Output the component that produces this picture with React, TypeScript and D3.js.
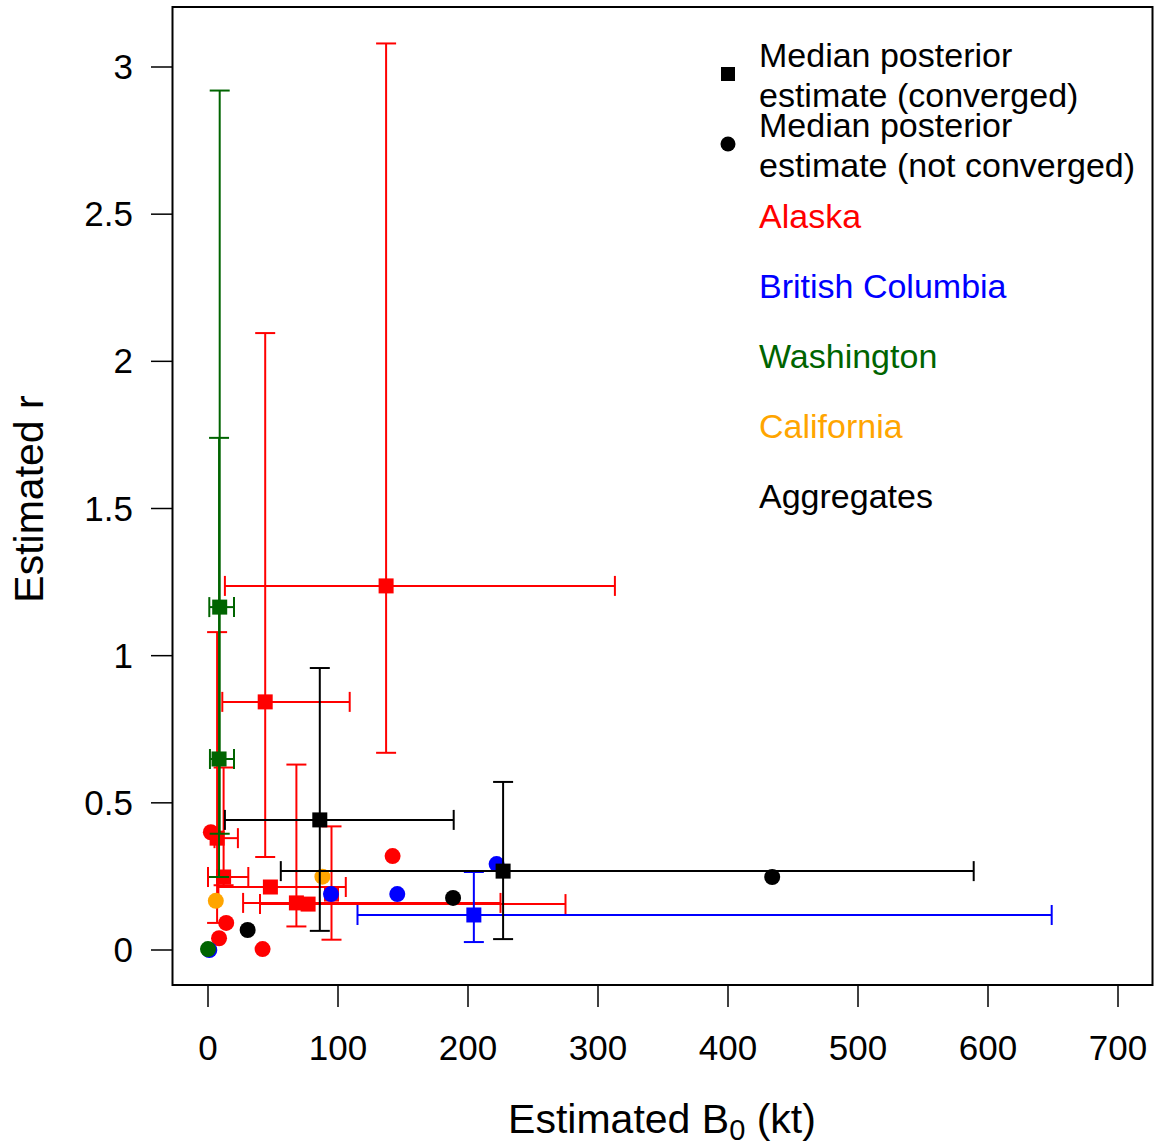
import React, { useEffect, useRef } from "react";
import * as d3 from "d3";

// regions in drawing order, with their colours
const regions = ["Alaska", "British Columbia", "Washington", "California", "Aggregates"];
const regionColors = ["#FF0000", "#0000FF", "#006400", "#FFA500", "#000000"];

// converged estimates (squares) with intervals
const sqRegion = ["Alaska", "Alaska", "Alaska", "Alaska", "Alaska", "Alaska", "Alaska", "Alaska",
  "British Columbia", "Washington", "Washington", "Aggregates", "Aggregates"];
const sqB = [137, 44, 48, 12, 68, 77, 7, 95, 204.5, 9, 8.5, 86, 227];
const sqBLow = [13, 11, 8, 0, 27, 40, 5, 95, 115, 1, 1.5, 13, 56];
const sqBHigh = [313, 109, 106, 31, 225, 275, 23, 95, 649, 20, 20, 189, 589];
const sqR = [1.237, 0.843, 0.214, 0.248, 0.16, 0.156, 0.38, 0.19, 0.119, 1.165, 0.649, 0.442, 0.268];
const sqRLow = [0.67, 0.316, 0.214, 0.22, 0.08, 0.156, 0.092, 0.035, 0.027, 0.395, 0.248, 0.065, 0.037];
const sqRHigh = [3.08, 2.096, 0.214, 0.62, 0.63, 0.156, 1.08, 0.42, 0.265, 2.92, 1.74, 0.958, 0.571];

// not converged estimates (circles)
const ciRegion = ["Alaska", "Alaska", "Alaska", "Alaska", "Alaska",
  "British Columbia", "British Columbia", "British Columbia", "British Columbia",
  "Washington", "California", "California", "Aggregates", "Aggregates", "Aggregates"];
const ciB = [2.2, 142, 14, 8.5, 42, 1, 94.6, 145.6, 222, 0, 6, 88, 30.5, 188.5, 434];
const ciR = [0.4, 0.319, 0.092, 0.04, 0.003, 0.0, 0.19, 0.19, 0.292, 0.003, 0.167, 0.249, 0.068, 0.177, 0.248];

const xTicks = [0, 100, 200, 300, 400, 500, 600, 700];
const yTicks = [0, 0.5, 1, 1.5, 2, 2.5, 3];

const App = () => {
  const ref = useRef<SVGSVGElement>(null);

  useEffect(() => {
    const svg = d3.select(ref.current);
    svg.selectAll("*").remove();
    const font = "Liberation Sans, Arial, sans-serif";

    const x = d3.scaleLinear().domain([0, 700]).range([208, 1118]);
    const y = d3.scaleLinear().domain([0, 3]).range([950, 67]);
    const color = d3.scaleOrdinal<string>().domain(regions).range(regionColors);

    // plot box
    svg.append("rect")
      .attr("x", 172.5).attr("y", 7).attr("width", 980).attr("height", 978)
      .attr("fill", "none").attr("stroke", "black").attr("stroke-width", 2);

    // x axis
    const xa = svg.append("g");
    xa.selectAll("line").data(xTicks).enter().append("line")
      .attr("x1", d => x(d)).attr("x2", d => x(d))
      .attr("y1", 986).attr("y2", 1007)
      .attr("stroke", "black").attr("stroke-width", 1.5);
    xa.selectAll("text").data(xTicks).enter().append("text")
      .attr("x", d => x(d)).attr("y", 1060)
      .attr("text-anchor", "middle").attr("font-family", font).attr("font-size", 35)
      .text(d => d);

    // y axis
    const ya = svg.append("g");
    ya.selectAll("line").data(yTicks).enter().append("line")
      .attr("x1", 151).attr("x2", 172)
      .attr("y1", d => y(d)).attr("y2", d => y(d))
      .attr("stroke", "black").attr("stroke-width", 1.5);
    ya.selectAll("text").data(yTicks).enter().append("text")
      .attr("x", 133).attr("y", d => y(d) + 12)
      .attr("text-anchor", "end").attr("font-family", font).attr("font-size", 35)
      .text(d => d);

    // axis titles
    svg.append("text")
      .attr("transform", "translate(43,499) rotate(-90)")
      .attr("text-anchor", "middle").attr("font-family", font).attr("font-size", 41)
      .text("Estimated r");
    const xt = svg.append("text")
      .attr("x", 662).attr("y", 1133)
      .attr("text-anchor", "middle").attr("font-family", font).attr("font-size", 41);
    xt.append("tspan").text("Estimated B");
    xt.append("tspan").attr("font-size", 29).attr("dy", 7).text("0");
    xt.append("tspan").attr("dy", -7).text(" (kt)");

    const cap = 10;
    const sqIdx = d3.range(sqB.length);
    const ciIdx = d3.range(ciB.length);

    regions.forEach(reg => {
      const col = color(reg);
      const g = svg.append("g");
      const si = sqIdx.filter(i => sqRegion[i] === reg);
      si.forEach(i => {
        if (sqBHigh[i] > sqBLow[i]) {
          g.append("line")
            .attr("x1", x(sqBLow[i])).attr("x2", x(sqBHigh[i]))
            .attr("y1", y(sqR[i])).attr("y2", y(sqR[i]))
            .attr("stroke", col).attr("stroke-width", 2);
          [sqBLow[i], sqBHigh[i]].forEach(v => {
            g.append("line")
              .attr("x1", x(v)).attr("x2", x(v))
              .attr("y1", y(sqR[i]) - cap).attr("y2", y(sqR[i]) + cap)
              .attr("stroke", col).attr("stroke-width", 2);
          });
        }
        if (sqRHigh[i] > sqRLow[i]) {
          g.append("line")
            .attr("x1", x(sqB[i])).attr("x2", x(sqB[i]))
            .attr("y1", y(sqRLow[i])).attr("y2", y(sqRHigh[i]))
            .attr("stroke", col).attr("stroke-width", 2);
          [sqRLow[i], sqRHigh[i]].forEach(v => {
            g.append("line")
              .attr("x1", x(sqB[i]) - cap).attr("x2", x(sqB[i]) + cap)
              .attr("y1", y(v)).attr("y2", y(v))
              .attr("stroke", col).attr("stroke-width", 2);
          });
        }
      });
      g.selectAll("circle.pt").data(ciIdx.filter(i => ciRegion[i] === reg)).enter()
        .append("circle")
        .attr("cx", i => x(ciB[i])).attr("cy", i => y(ciR[i])).attr("r", 8)
        .attr("fill", col);
      g.selectAll("rect.pt").data(si).enter()
        .append("rect")
        .attr("x", i => x(sqB[i]) - 7.5).attr("y", i => y(sqR[i]) - 7.5)
        .attr("width", 15).attr("height", 15)
        .attr("fill", col);
    });

    // legend
    const lg = svg.append("g").attr("font-family", font).attr("font-size", 34);
    lg.append("rect").attr("x", 721).attr("y", 67).attr("width", 14).attr("height", 14).attr("fill", "black");
    lg.append("text").attr("x", 759).attr("y", 67).text("Median posterior");
    lg.append("text").attr("x", 759).attr("y", 107).text("estimate (converged)");
    lg.append("circle").attr("cx", 728).attr("cy", 144).attr("r", 7.5).attr("fill", "black");
    lg.append("text").attr("x", 759).attr("y", 137).text("Median posterior");
    lg.append("text").attr("x", 759).attr("y", 177).text("estimate (not converged)");
    regions.forEach((reg, k) => {
      lg.append("text").attr("x", 759).attr("y", 228 + k * 70)
        .attr("fill", color(reg)).text(reg);
    });
  }, []);

  return (
    <svg ref={ref} width={1154} height={1145}
      style={{ position: "absolute", left: 0, top: 0, background: "white" }} />
  );
};

export default App;
